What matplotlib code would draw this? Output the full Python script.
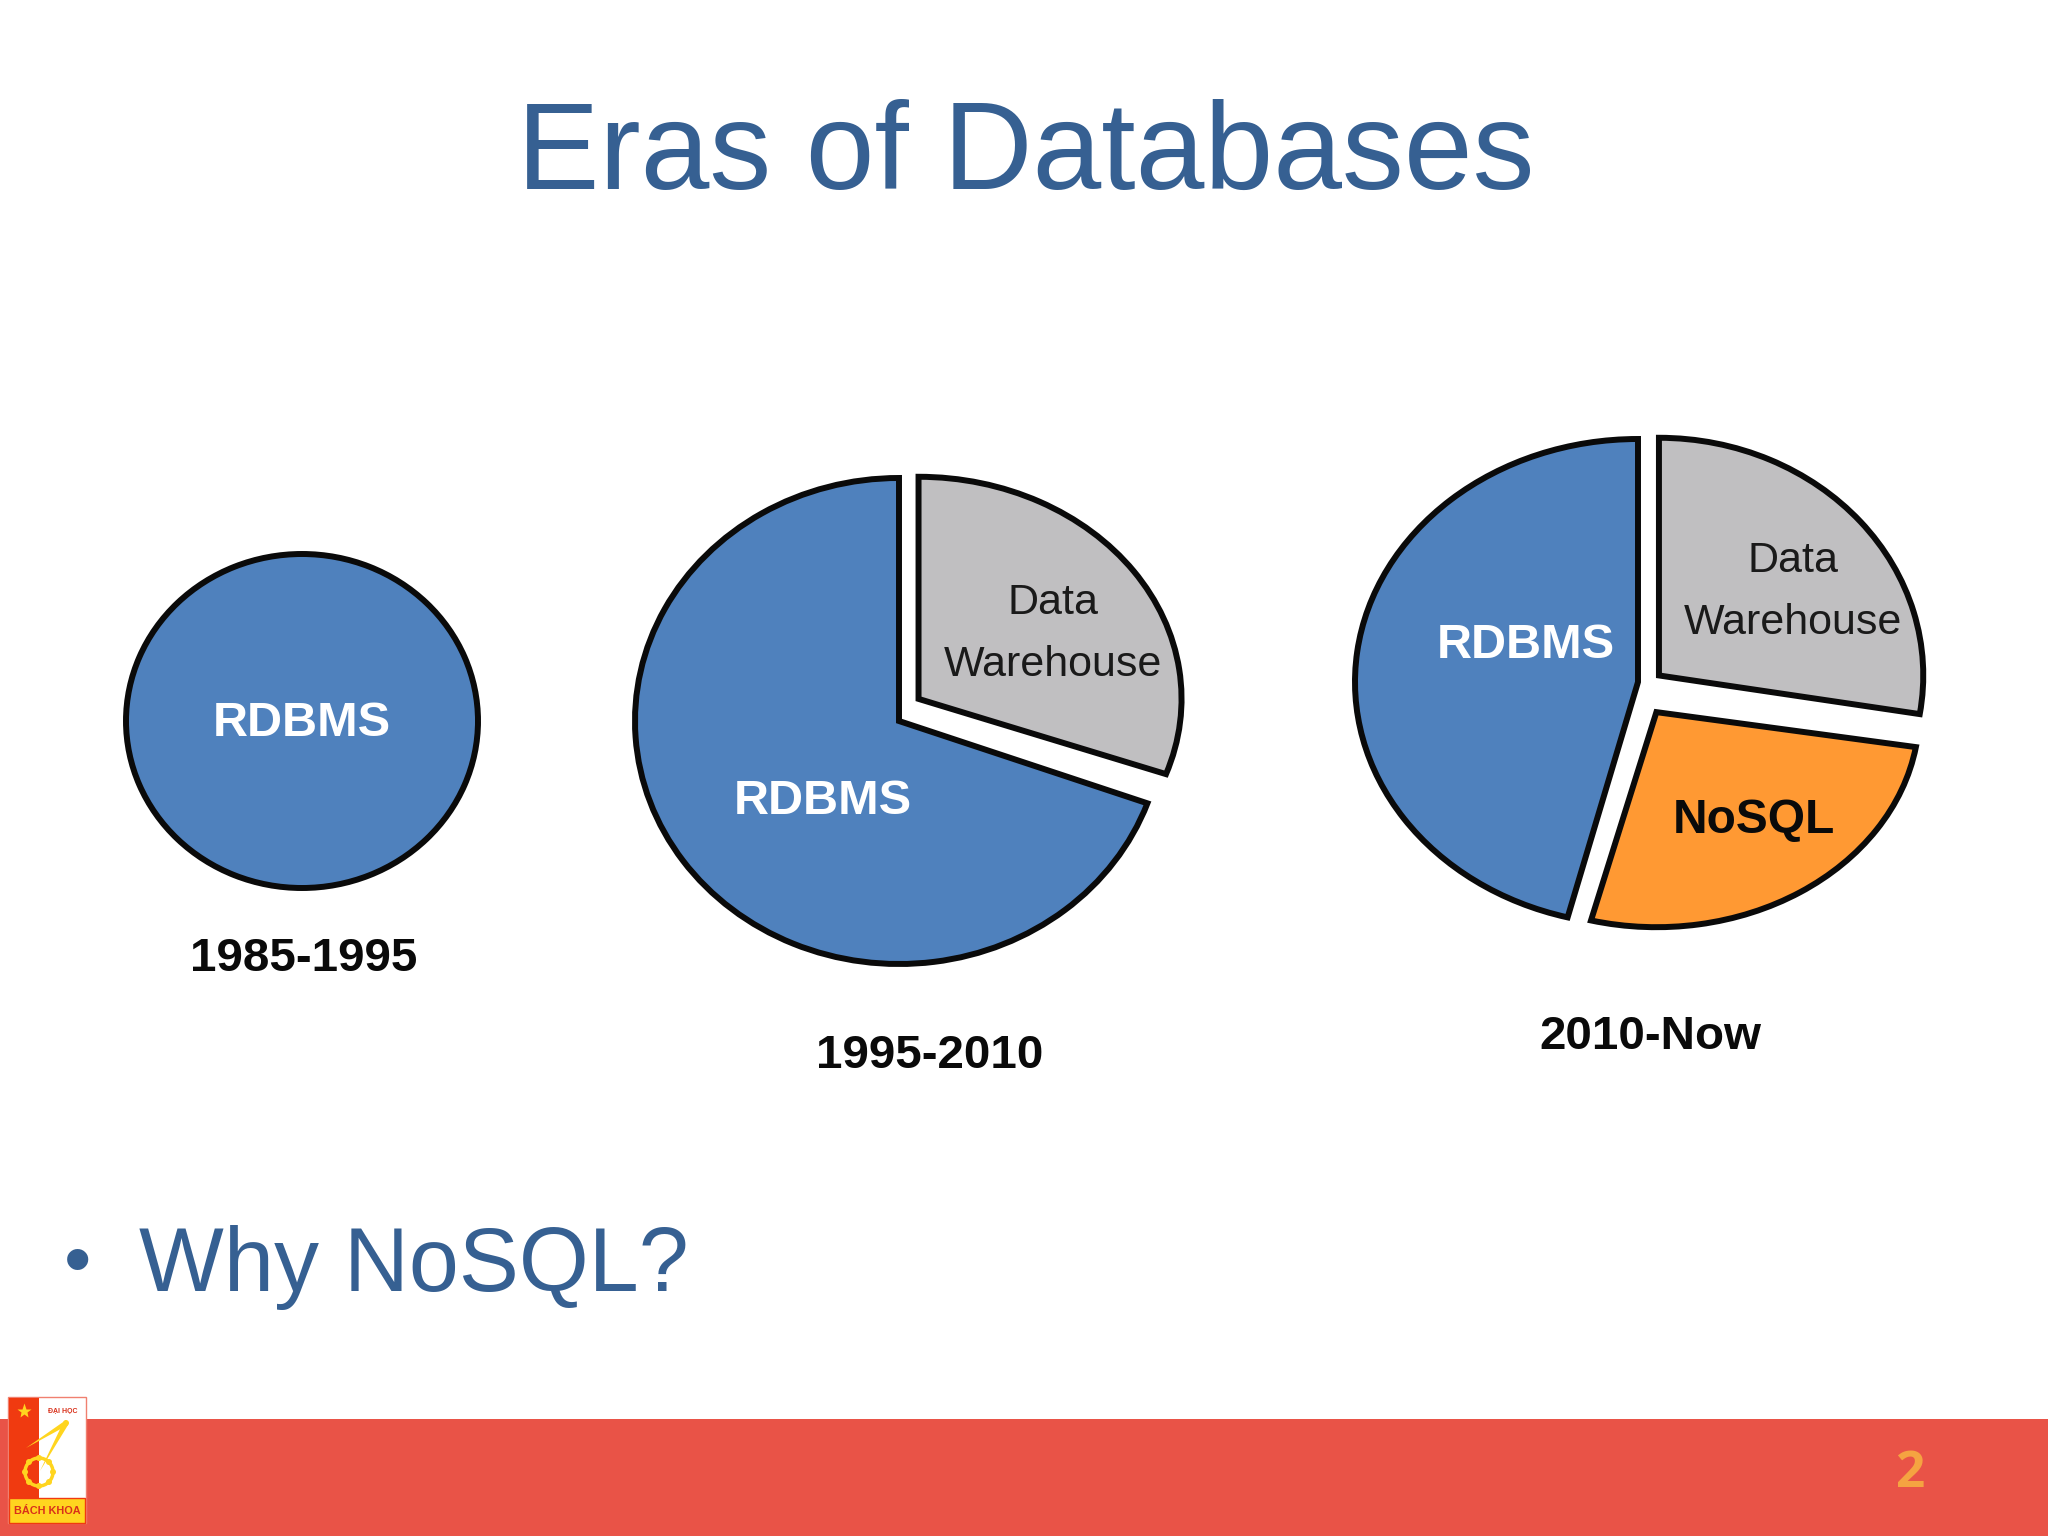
import matplotlib
matplotlib.use("Agg")
import matplotlib.pyplot as plt
from matplotlib.patches import Rectangle, Circle, Polygon
from matplotlib.transforms import Affine2D

# ---- data ----
pie1_labels = ["RDBMS"]
pie1_values = [100]
pie2_labels = ["RDBMS", "Data\nWarehouse"]
pie2_values = [69.5, 30.5]
pie3_labels = ["RDBMS", "NoSQL", "Data\nWarehouse"]
pie3_values = [46, 26.4, 27.6]
period_labels = ["1985-1995", "1995-2010", "2010-Now"]
title_text = "Eras of Databases"
bullet_text = "Why NoSQL?"
page_number = "2"

# ---- style ----
BLUE, GRAY, ORANGE = "#4F81BD", "#C0BFC1", "#FF9933"
TITLE = "#366092"
BAND = "#E95347"
EDGE = "#0a0a0a"
W, H = 2048, 1536
SANS = ["Liberation Sans", "DejaVu Sans"]

fig = plt.figure(figsize=(W / 100, H / 100), dpi=100, facecolor="white")


def draw_pie(cx, cy, rx, ry, values, colors, layout):
    """layout: per slice (offset x, offset y, radius, x stretch)."""
    ax = fig.add_axes([(cx - 1.25 * rx) / W, 1 - (cy + 1.25 * ry) / H,
                       2.5 * rx / W, 2.5 * ry / H])
    wedges, _ = ax.pie(values, colors=colors, startangle=90, counterclock=True,
                       wedgeprops=dict(edgecolor=EDGE, linewidth=4.3, joinstyle="miter"))
    ax.set_aspect("auto")
    ax.patch.set_alpha(0)
    for w, (dx, dy, r, sx) in zip(wedges, layout):
        w.set_center((dx, dy))
        w.set_radius(r)
        w.set_transform(Affine2D().translate(-dx, -dy).scale(sx, 1).translate(dx, dy)
                        + ax.transData)


draw_pie(302, 721, 176, 167, pie1_values, [BLUE], [(0, 0, 1, 1)])
draw_pie(899, 721, 264, 243, pie2_values, [BLUE, GRAY],
         [(0, 0, 1, 1), (0.074, 0.091, 0.914, 1.09)])
draw_pie(1638, 682, 283, 243, pie3_values, [BLUE, ORANGE, GRAY],
         [(0, 0, 1, 1), (0.065, -0.124, 0.885, 1.05), (0.074, 0.027, 0.978, 0.955)])

top = fig.add_axes([0, 0, 1, 1], zorder=10)
top.set_xlim(0, W)
top.set_ylim(H, 0)
top.axis("off")
top.patch.set_alpha(0)

# title and bullet
top.text(1026, 189, title_text, fontsize=89, color=TITLE, family=SANS,
         ha="center", va="baseline")
top.text(78, 1265, "\u2022", fontsize=56, color=TITLE, family=SANS,
         ha="center", va="center")
top.text(139, 1291, bullet_text, fontsize=64.7, color=TITLE, family=SANS,
         ha="left", va="baseline")


# pie labels
def label(x, y, s, size, color, weight="normal"):
    top.text(x, y, s, fontsize=size, color=color, family=SANS, weight=weight,
             ha="center", va="center", linespacing=1.72)


label(302, 724, pie1_labels[0], 35, "white", "bold")
label(823, 802, pie2_labels[0], 35, "white", "bold")
label(1053, 634, pie2_labels[1], 31, "#1a1a1a")
label(1526, 645, pie3_labels[0], 35, "white", "bold")
label(1754, 821, pie3_labels[1], 34.5, EDGE, "bold")
label(1793, 592, pie3_labels[2], 31, "#1a1a1a")

label(304, 959, period_labels[0], 34.2, EDGE, "bold")
label(930, 1056, period_labels[1], 34.2, EDGE, "bold")
label(1650, 1037, period_labels[2], 34.2, EDGE, "bold")

# footer band and page number
top.add_patch(Rectangle((0, 1419), W, H - 1419, facecolor=BAND, edgecolor="none"))
top.text(1910, 1474, page_number, fontsize=37, color="#F5A341", family=["Open Sans"],
         weight="bold", ha="center", va="center")

# logo
top.add_patch(Rectangle((8, 1397), 78, 126, facecolor="white", edgecolor="#F08070", lw=1))
top.add_patch(Rectangle((9, 1398), 30, 100, facecolor="#F03A10", edgecolor="none"))
top.add_patch(Rectangle((9, 1498), 76, 25, facecolor="#FFD51F", edgecolor="#F03A10", lw=1))
top.plot([24], [1411], marker="*", ms=11, color="#FFD51F", mec="none")
top.add_patch(Circle((39, 1472), 14, facecolor="none", edgecolor="#FFD51F", lw=2.5))
for a, b in [(39, 1458), (39, 1486), (25, 1472), (53, 1472), (29, 1462), (49, 1462), (29, 1482), (49, 1482)]:
    top.add_patch(Circle((a, b), 3, facecolor="#FFD51F", edgecolor="none"))
top.add_patch(Polygon([[66, 1420], [68, 1425], [26, 1448]], facecolor="#FFD51F", edgecolor="none"))
top.add_patch(Polygon([[63, 1423], [68, 1425], [40, 1471]], facecolor="#FFD51F", edgecolor="none"))
top.add_patch(Circle((66, 1423), 3, facecolor="#FFD51F", edgecolor="none"))
top.text(63, 1411, "ĐẠI HỌC", fontsize=5, color="#D9301A", family=SANS, weight="bold",
         ha="center", va="center")
top.text(47, 1511, "BÁCH KHOA", fontsize=7.8, color="#D9301A", family=SANS, weight="bold",
         ha="center", va="center")

fig.savefig("out.png", dpi=100, facecolor="white")
